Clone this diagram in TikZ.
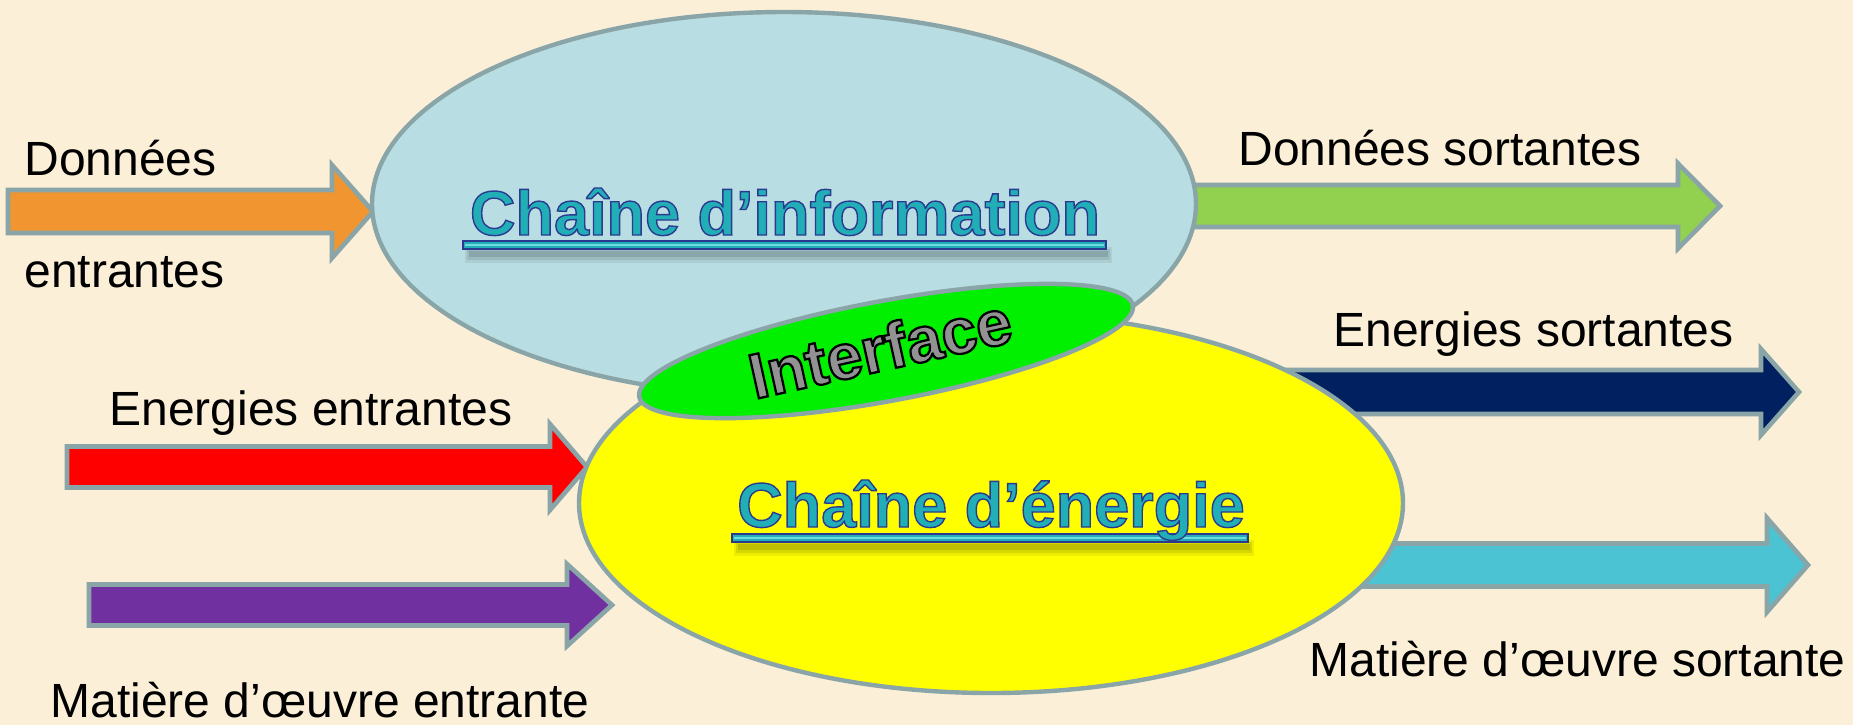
\documentclass[tikz,border=0pt]{standalone}
\usepackage{fontspec}
\setmainfont{Liberation Sans}
\newfontfamily\titlefont[FakeBold=2.2]{Liberation Sans Bold}
\newfontfamily\ifacefont[FakeBold=3.5]{Liberation Sans Bold}
\usetikzlibrary{shapes.geometric}
\definecolor{bgcream}{HTML}{FBEFD7}
\definecolor{bordergray}{HTML}{8AA5A8}
\definecolor{infoblue}{HTML}{B8DEE3}
\definecolor{energyellow}{HTML}{FFFF00}
\definecolor{ifacegreen}{HTML}{00F000}
\definecolor{arrorange}{HTML}{F0952F}
\definecolor{arrgreen}{HTML}{92D050}
\definecolor{arrnavy}{HTML}{002060}
\definecolor{arrred}{HTML}{FF0000}
\definecolor{arrpurple}{HTML}{7030A0}
\definecolor{arrcyan}{HTML}{4BC3D2}
\definecolor{titleteal}{HTML}{22AEB6}
\definecolor{titlelight}{HTML}{6FDCE2}
\definecolor{titledark}{HTML}{2B3A8F}
\definecolor{ifacegray}{HTML}{929292}
\newcommand\blockarrow[7]{%
  \draw[arrowborder, fill=#1] (#2,{#5-#6}) -- (#3,{#5-#6}) -- (#3,{#5-#7}) -- (#4,#5)
    -- (#3,{#5+#7}) -- (#3,{#5+#6}) -- (#2,{#5+#6}) -- cycle;}
% underline bar with soft shadow: x1, x2, top y
\newcommand\ulinebar[3]{%
  \fill[black, opacity=0.07] ({#1+2},{#3+6}) rectangle ({#2+6},{#3+22});
  \fill[black, opacity=0.09] ({#1+4},{#3+8}) rectangle ({#2+4},{#3+19});
  \fill[black, opacity=0.11] ({#1+6},{#3+10}) rectangle ({#2+2},{#3+16});
  \draw[ulbar] (#1,#3) rectangle (#2,{#3+8});
  \fill[titlelight] ({#1+2},{#3+3}) rectangle ({#2-2},{#3+4.5});}
\tikzset{
  arrowborder/.style={draw=bordergray, line width=2.3pt, line join=miter},
  blob/.style={ellipse, draw=bordergray, line width=2.2pt, inner sep=0pt},
  lbl/.style={anchor=base west, inner sep=0pt, font=\fontsize{24pt}{28pt}\selectfont},
  titletext/.style={anchor=base, inner sep=0pt, text=titleteal,
    font=\titlefont\fontsize{31.5pt}{36pt}\selectfont},
  ifacetext/.style={anchor=center, inner sep=0pt, text=ifacegray,
    font=\ifacefont\fontsize{32pt}{36pt}\selectfont},
  ulbar/.style={draw=titledark, fill=titleteal, line width=0.7pt},
}
\begin{document}
\begin{tikzpicture}[x=0.5pt,y=-0.5pt]
\fill[bgcream] (0,0) rectangle (1853,725);
\useasboundingbox (0,0) rectangle (1853,725);

% arrows (behind the ellipses)
\blockarrow{arrorange}{8}{332}{373}{211.5}{21.5}{46.5}
\blockarrow{arrgreen}{1150}{1678}{1720}{206}{21}{42.5}
\blockarrow{arrnavy}{1250}{1761}{1799}{392}{22}{43}
\blockarrow{arrred}{67}{550}{587}{467}{20.5}{43}
\blockarrow{arrpurple}{89}{567}{612}{605}{20.5}{41}
\blockarrow{arrcyan}{1300}{1767}{1808}{565}{21.5}{47}

% ellipses
\node[blob, fill=infoblue, minimum width=412pt, minimum height=192pt] (info) at (784,204) {};
\node[blob, fill=energyellow, minimum width=412pt, minimum height=190pt] (energy) at (991,503) {};
\node[blob, fill=ifacegreen, minimum width=251pt, minimum height=50pt, rotate=10.5] (iface) at (886,351) {};

% titles
\ulinebar{463}{1106}{241}
\node[titletext] (tinfo) at (785,235) {\special{pdf:code 0.169 0.227 0.561 RG}Chaîne d’information};
\ulinebar{732}{1248}{534}
\node[titletext] (tener) at (991,527) {\special{pdf:code 0.169 0.227 0.561 RG}Chaîne d’énergie};
\node[ifacetext, rotate=12.5] (tiface) at (880,348) {\special{pdf:code 0 0 0 RG}Interface};

% labels
\node[lbl] (l1) at (24,175) {Données};
\node[lbl] (l2) at (24,287) {entrantes};
\node[lbl] (l3) at (1238,165) {Données sortantes};
\node[lbl] (l4) at (1333,346) {Energies sortantes};
\node[lbl] (l5) at (109,425) {Energies entrantes};
\node[lbl] (l6) at (1309,676) {Matière d’œuvre sortante};
\node[lbl] (l7) at (50,717) {Matière d’œuvre entrante};
\end{tikzpicture}
\end{document}
